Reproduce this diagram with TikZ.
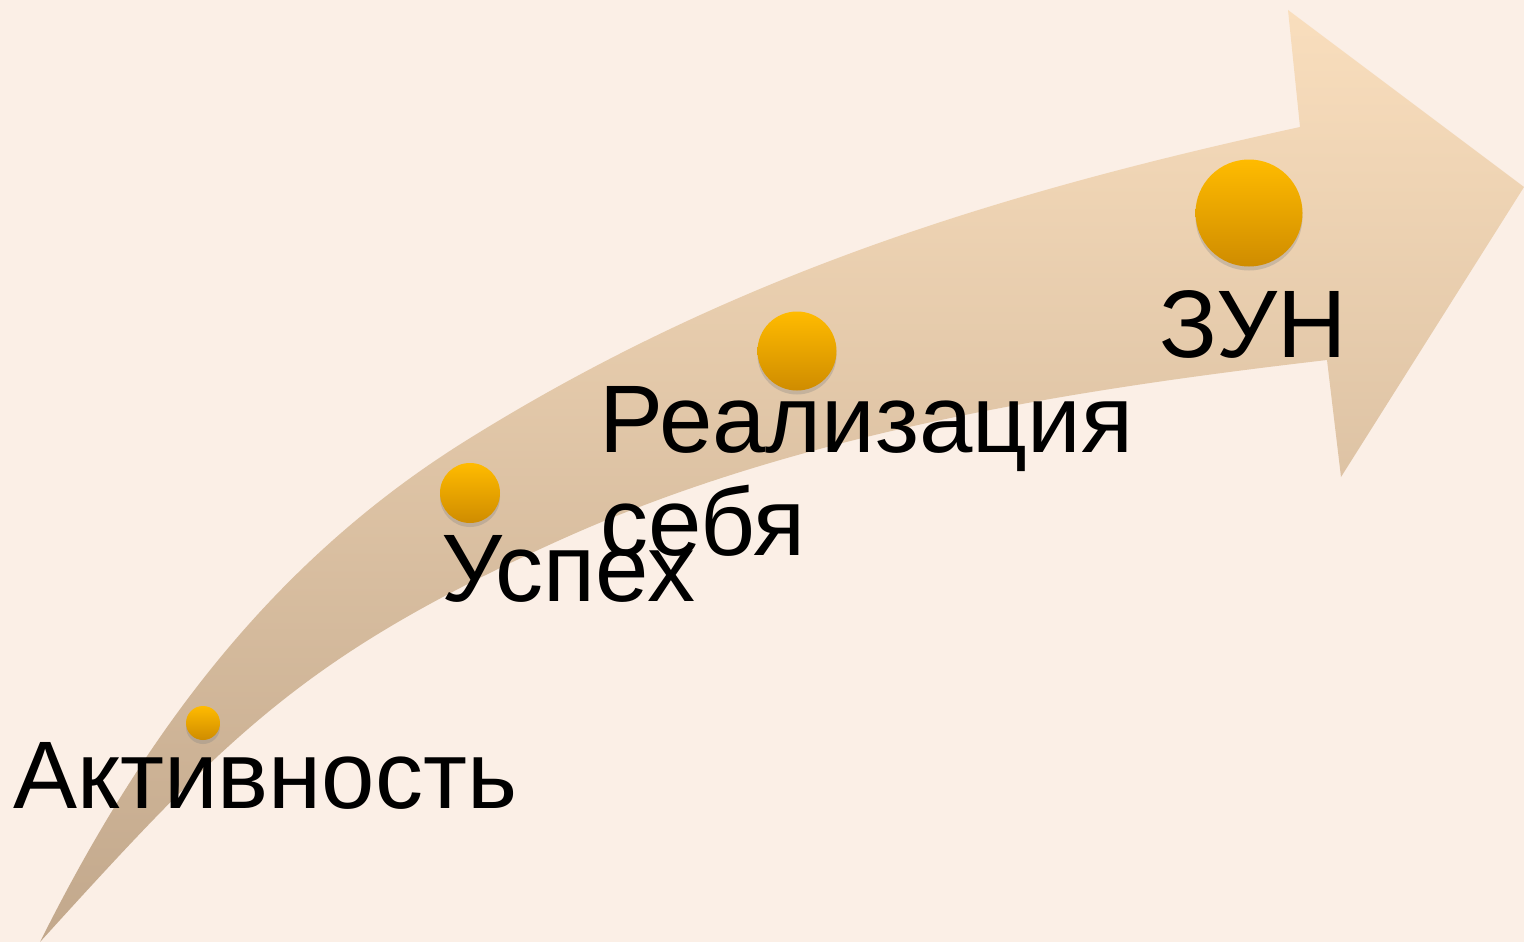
\documentclass[tikz,border=0pt]{standalone}
\usepackage{fontspec}
\setmainfont{Liberation Sans}
\usetikzlibrary{shadows}
\definecolor{bgcol}{RGB}{251,239,230}
\definecolor{arrtop}{RGB}{249,222,189}
\definecolor{arrbot}{RGB}{194,168,140}
\definecolor{dottop}{RGB}{255,187,0}
\definecolor{dotbot}{RGB}{207,140,0}
\tikzset{
  dot/.style={circle, inner sep=0pt, top color=dottop, bottom color=dotbot, draw=none,
    drop shadow={shadow xshift=0pt, shadow yshift=-4pt, opacity=0.3}},
  lbl/.style={anchor=base west, inner sep=0pt, font=\fontsize{96}{103}\selectfont, text=black}
}
\begin{document}
\begin{tikzpicture}[x=1pt,y=-1pt]
\useasboundingbox (0,0) rectangle (1524,942);
\fill[bgcol] (0,0) rectangle (1524,942);
% curved arrow
\shade[top color=arrtop, bottom color=arrbot]
  (40,942) .. controls (143,736) and (271,562) .. (467,440)
  .. controls (730,276) and (997,193) .. (1300,127)
  -- (1288,10) -- (1524,187) -- (1341,477) -- (1327,360)
  .. controls (1069,390) and (797,433) .. (560,540)
  .. controls (305,655) and (228,735) .. (40,942)
  -- cycle;
% dots
\node[dot, minimum size=34] (d1) at (203,723) {};
\node[dot, minimum size=60] (d2) at (470,493) {};
\node[dot, minimum size=79] (d3) at (797,351) {};
\node[dot, minimum size=107] (d4) at (1249,213) {};
% labels
\node[lbl] (t1) at (13,808) {Активность};
\node[lbl] (t2) at (441,601) {Успех};
\node[lbl] (t3) at (599,452) {Реализация};
\node[lbl] (t3b) at (600,555) {себя};
\node[lbl] (t4) at (1159,357) {ЗУН};
\end{tikzpicture}
\end{document}
